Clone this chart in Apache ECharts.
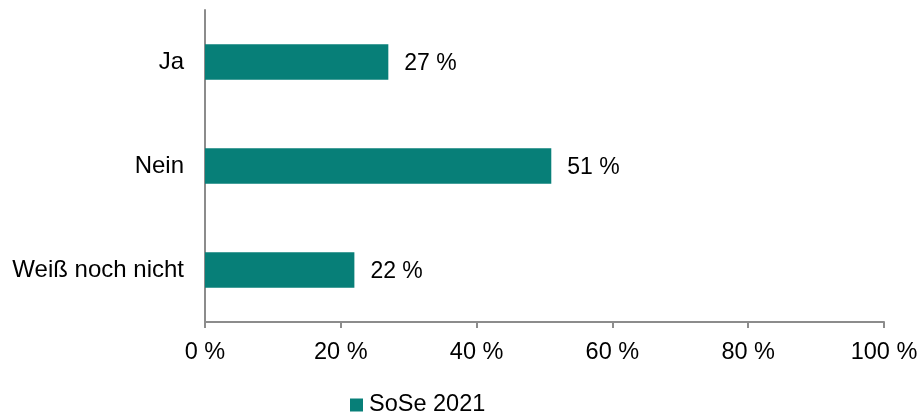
<!DOCTYPE html>
<html>
<head>
<meta charset="utf-8">
<script src="https://cdn.jsdelivr.net/npm/echarts@6/dist/echarts.min.js"></script>
<style>
  html, body { margin: 0; padding: 0; background: #fff; }
  #chart { width: 921px; height: 415px; }
</style>
</head>
<body>
<div id="chart"></div>
<script>
// Answer categories, top to bottom
const categories = ['Ja', 'Nein', 'Weiß noch nicht'];
// Share of respondents in percent
const values = [27, 51, 22];
const seriesName = 'SoSe 2021';
const xTicks = [0, 20, 40, 60, 80, 100];

const FONT = '"Liberation Sans", Arial, sans-serif';
const AXIS_GREY = '#8c8c8c';
const TEAL = '#077f78';

const chart = echarts.init(document.getElementById('chart'), null, { renderer: 'canvas' });

chart.setOption({
  animation: false,
  textStyle: { fontFamily: FONT },
  grid: { left: 205, right: 37, top: 10, bottom: 93, containLabel: false },
  legend: {
    data: [seriesName],
    left: 345,
    top: 388,
    icon: 'rect',
    itemWidth: 13,
    itemHeight: 13,
    itemGap: 10,
    textStyle: { fontFamily: FONT, fontSize: 23.5, color: '#000', padding: [0, 0, 0, 1] }
  },
  xAxis: {
    type: 'value',
    min: xTicks[0],
    max: xTicks[xTicks.length - 1],
    interval: 20,
    splitLine: { show: false },
    axisLine: { show: true, lineStyle: { color: AXIS_GREY, width: 2 } },
    axisTick: { show: true, length: 6, lineStyle: { color: AXIS_GREY, width: 2 } },
    axisLabel: {
      margin: 19,
      fontFamily: FONT,
      fontSize: 23.5,
      color: '#000',
      formatter: v => v + ' %'
    }
  },
  yAxis: {
    type: 'category',
    data: categories,
    inverse: true,
    axisLine: { show: true, lineStyle: { color: AXIS_GREY, width: 2 } },
    axisTick: { show: false },
    axisLabel: { margin: 21, fontFamily: FONT, fontSize: 24, color: '#000', padding: [4, 0, 0, 0] }
  },
  series: [{
    name: seriesName,
    type: 'bar',
    data: values,
    barWidth: '34%',
    itemStyle: { color: TEAL },
    label: {
      show: true,
      position: 'right',
      distance: 16,
      offset: [0, 2],
      fontFamily: FONT,
      fontSize: 23,
      color: '#000',
      formatter: p => p.value + ' %'
    }
  }]
});
</script>
</body>
</html>
